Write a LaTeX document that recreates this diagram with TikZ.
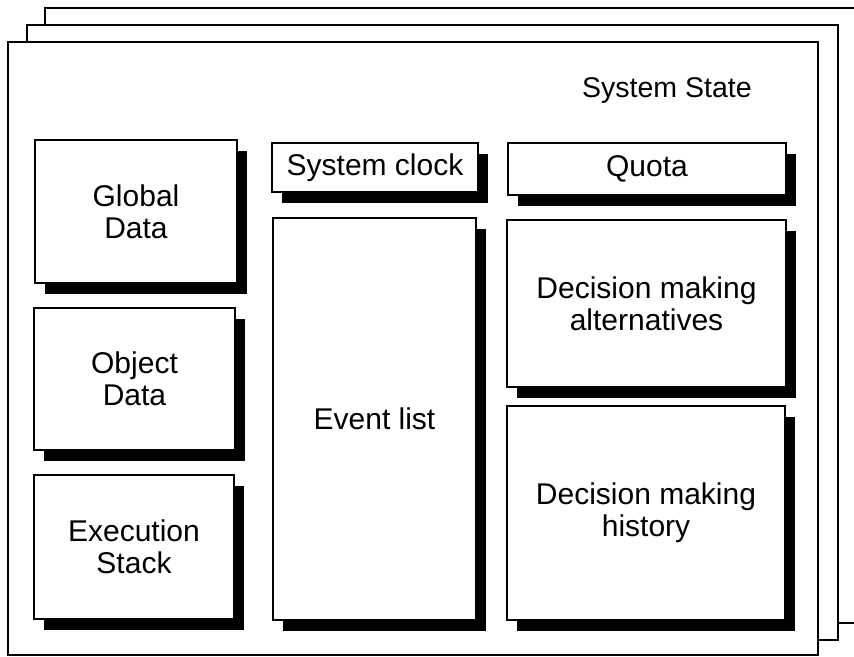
\documentclass[tikz,border=0pt]{standalone}
\usepackage{fontspec}
\setmainfont{Liberation Sans}
\usetikzlibrary{shadows}

\newcommand{\boxfont}{\fontsize{30}{32}\selectfont}
\newcommand{\titlefont}{\fontsize{28.5}{30}\selectfont}

\tikzset{
  page/.style={draw, fill=white, line width=2pt, anchor=north west,
    inner sep=0pt, outer sep=0pt},
  partbox/.style={draw, fill=white, line width=1.5pt, anchor=north west,
    inner sep=0pt, outer sep=0pt, align=center, font=\boxfont,
    drop shadow={shadow xshift=10pt, shadow yshift=-11pt, fill=black, opacity=1}},
}

\begin{document}
\begin{tikzpicture}[x=1pt, y=-1pt]
  \useasboundingbox (0,0) rectangle (854,656);
  \clip (0,0) rectangle (854,656);

  % stacked pages of the system state
  \node[page, minimum width=825pt, minimum height=615pt] (page3) at (45,8) {};
  \node[page, minimum width=811pt, minimum height=615pt] (page2) at (27,25) {};
  \node[page, minimum width=810pt, minimum height=613pt] (page1) at (8,42) {};

  \node[anchor=base west, inner sep=0pt, font=\titlefont] (title) at (582,97) {System State};

  % left column
  \node[partbox, minimum width=202pt, minimum height=143pt] (global) at (35,140) {Global\\Data};
  \node[partbox, minimum width=201pt, minimum height=142pt] (object) at (34,308) {Object\\Data};
  \node[partbox, minimum width=200pt, minimum height=144pt] (stack) at (34,475) {Execution\\Stack};

  % middle column
  \node[partbox, minimum width=206pt, minimum height=49pt] (clock) at (272,143) {System clock};
  \node[partbox, minimum width=203pt, minimum height=402pt] (events) at (273,218) {Event list};

  % right column
  \node[partbox, minimum width=278pt, minimum height=52pt] (quota) at (508,143) {Quota};
  \node[partbox, minimum width=279pt, minimum height=167pt] (alts) at (507,220) {Decision making\\alternatives};
  \node[partbox, minimum width=278pt, minimum height=214pt] (history) at (507,406) {Decision making\\history};
\end{tikzpicture}
\end{document}
